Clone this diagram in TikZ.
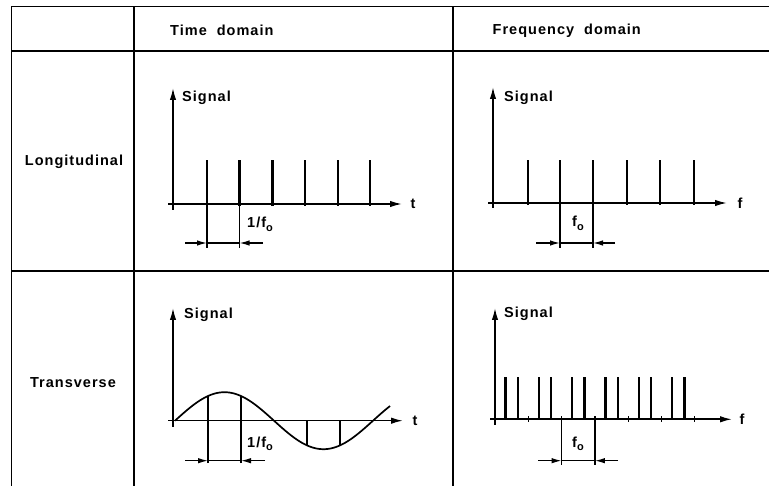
\documentclass[tikz,border=0pt]{standalone}
\usepackage{fontspec}
\setmainfont{Liberation Sans}[LetterSpace=7,BoldFont={Liberation Sans Bold}]
\usetikzlibrary{arrows.meta}
\newcommand{\subo}{\raisebox{-3.5pt}{\fontsize{11}{12}\selectfont o}}
\begin{document}
\begin{tikzpicture}[x=1pt,y=-1pt,
  gridline/.style={line width=1.8pt},
  axis/.style={line width=1.6pt,-{Latex[length=12pt,width=6.5pt]}},
  spike/.style={line width=2.3pt},
  dim/.style={line width=1.3pt},
  sample/.style={line width=1.5pt},
  wave/.style={line width=1.7pt},
  dimarrow/.style={line width=1.3pt,-{Latex[length=10pt,width=5.5pt]}},
  lab/.style={font=\bfseries\fontsize{14.5}{17}\selectfont, inner sep=0pt},
]
\useasboundingbox (0,0) rectangle (769,486);

% ---- table grid
\coordinate (gTL) at (11.5,6.5);
\coordinate (gTR) at (769,6.5);
\coordinate (gBL) at (11.5,486);
\draw[gridline] (gBL) -- (gTL) -- (gTR);
\draw[gridline] (11.5,51) -- (769,51);
\draw[gridline] (11.5,271) -- (769,271);
\draw[gridline] (134,6.5) -- (134,486);
\draw[gridline] (453,6.5) -- (453,486);

% ---- headings
\node[lab,anchor=base west] (hTime) at (170,35.5) {Time\hspace{10pt}domain};
\node[lab,anchor=base west] (hFreq) at (492.5,35) {Frequency\hspace{10pt}domain};
\node[lab,anchor=base] (rLong) at (74,166) {Longitudinal};
\node[lab,anchor=base] (rTrans) at (73,388) {Transverse};

% ---- panel A : time domain, longitudinal
\coordinate (Ay0) at (173,210);
\coordinate (Ay1) at (173,88);
\coordinate (Ax0) at (168,204);
\coordinate (Ax1) at (402,204);
\draw[axis] (Ay0) -- (Ay1);
\draw[axis] (Ax0) -- (Ax1);
\node[lab] (At) at (413,204) {t};
\node[lab,anchor=base west] (ASig) at (182,101.5) {Signal};
\foreach \x in {207,239.5,272.5,305,338,370}
  \draw[spike] (\x,206) -- (\x,160);
\coordinate (Ad1) at (207,243);
\coordinate (Ad2) at (239.5,243);
\draw[dim] (207,204) -- (207,248);
\draw[dim] (239.5,204) -- (239.5,248);
\draw[dim] (Ad1) -- (Ad2);
\coordinate (AdL) at (185,243);
\coordinate (AdR) at (263,243);
\draw[dimarrow] (AdL) -- (Ad1);
\draw[dimarrow] (AdR) -- (Ad2);
\node[lab,anchor=base west] (Alab) at (247,228) {1/f\subo};

% ---- panel B : frequency domain, longitudinal
\coordinate (By0) at (493,208);
\coordinate (By1) at (493,87);
\coordinate (Bx0) at (488,203);
\coordinate (Bx1) at (727,203);
\draw[axis] (By0) -- (By1);
\draw[axis] (Bx0) -- (Bx1);
\node[lab] (Bf) at (740,203) {f};
\node[lab,anchor=base west] (BSig) at (504,101.5) {Signal};
\foreach \x in {528,560,593,627,660,694}
  \draw[spike] (\x,205) -- (\x,160);
\coordinate (Bd1) at (560,243);
\coordinate (Bd2) at (593,243);
\draw[dim] (560,203) -- (560,248);
\draw[dim] (593,203) -- (593,248);
\draw[dim] (Bd1) -- (Bd2);
\coordinate (BdL) at (536,243);
\coordinate (BdR) at (615,243);
\draw[dimarrow] (BdL) -- (Bd1);
\draw[dimarrow] (BdR) -- (Bd2);
\node[lab,anchor=base west] (Blab) at (572,227) {f\subo};

% ---- panel C : time domain, transverse
\coordinate (Cy0) at (173,427);
\coordinate (Cy1) at (173,308);
\coordinate (Cx0) at (168,420.7);
\coordinate (Cx1) at (403,420.7);
\draw[axis] (Cy0) -- (Cy1);
\draw[axis] (Cx0) -- (Cx1);
\node[lab] (Ct) at (415,421) {t};
\node[lab,anchor=base west] (CSig) at (184,319) {Signal};
\draw[wave,domain=175:390,samples=120,smooth]
  plot (\x,{420.7-28.5*sin(1.818182*(\x-175))});
\draw[sample] (208,463) -- (208,396.0);
\draw[sample] (241,463) -- (241,396.0);
\draw[sample] (307,420.7) -- (307,445.4);
\draw[sample] (340,420.7) -- (340,445.4);
\coordinate (Cd1) at (208,460.7);
\coordinate (Cd2) at (241,460.7);
\draw[dim] (Cd1) -- (Cd2);
\coordinate (CdL) at (185,460.7);
\coordinate (CdR) at (265,460.7);
\draw[dimarrow] (CdL) -- (Cd1);
\draw[dimarrow] (CdR) -- (Cd2);
\node[lab,anchor=base west] (Clab) at (247,447) {1/f\subo};

% ---- panel D : frequency domain, transverse
\coordinate (Dy0) at (495,425);
\coordinate (Dy1) at (495,308);
\coordinate (Dx0) at (490,419.3);
\coordinate (Dx1) at (732,419.3);
\draw[axis] (Dy0) -- (Dy1);
\draw[axis] (Dx0) -- (Dx1);
\node[lab] (Df) at (742,419.3) {f};
\node[lab,anchor=base west] (DSig) at (504,318) {Signal};
\foreach \k in {1,...,6}
  \draw[dim] ({495+33.3*\k},416.5) -- ({495+33.3*\k},422.5);
\foreach \k in {0,...,5}{
  \draw[spike] ({495+16.65+33.3*\k-6.2},420) -- ({495+16.65+33.3*\k-6.2},377.3);
  \draw[spike] ({495+16.65+33.3*\k+6.2},420) -- ({495+16.65+33.3*\k+6.2},377.3);
}
\coordinate (Dd1) at (561.6,460.7);
\coordinate (Dd2) at (594.9,460.7);
\draw[dim] (561.6,419.3) -- (561.6,465);
\draw[dim] (594.9,419.3) -- (594.9,465);
\draw[dim] (Dd1) -- (Dd2);
\coordinate (DdL) at (538,460.7);
\coordinate (DdR) at (618,460.7);
\draw[dimarrow] (DdL) -- (Dd1);
\draw[dimarrow] (DdR) -- (Dd2);
\node[lab,anchor=base west] (Dlab) at (572,447) {f\subo};
\end{tikzpicture}
\end{document}
